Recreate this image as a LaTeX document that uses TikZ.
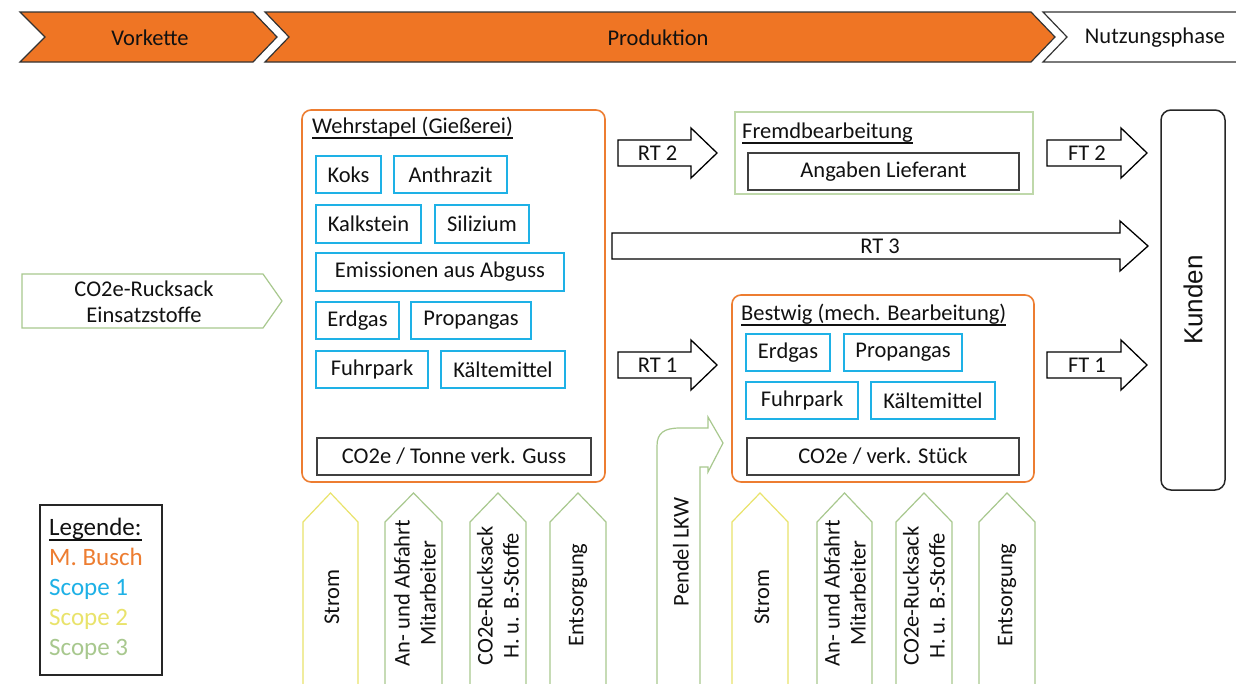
\documentclass[tikz,border=0pt]{standalone}
\usepackage{fontspec}
\setmainfont{Carlito}
\newfontfamily\kfont{Liberation Sans}
\usetikzlibrary{calc}
\definecolor{orng}{HTML}{EF7524}
\definecolor{boxor}{HTML}{ED7D31}
\definecolor{sblue}{HTML}{1EB1E6}
\definecolor{syel}{HTML}{E9E36B}
\definecolor{sgreen}{HTML}{A8C88E}
\definecolor{lgreen}{HTML}{BFD8AA}
\definecolor{txt}{HTML}{111111}
\newcommand{\bx}[7]{\node[#7, minimum width={#4pt-#2pt}, minimum height={#5pt-#3pt}] (#1) at ({(#2+#4)/2},{(#3+#5)/2}) {#6};}
\newcommand{\rarr}[8]{%
  \draw[barrow] (#2,{#4-#5}) -- ({#3-#7},{#4-#5}) -- ({#3-#7},{#4-#6}) -- (#3,#4) -- ({#3-#7},{#4+#6}) -- ({#3-#7},{#4+#5}) -- (#2,{#4+#5}) -- cycle;
  \node (#1) at ({(#2+#3-#7)/2+3},#4) {#8};}
\newcommand{\uarr}[3]{%
  \draw[draw=#3, line width=1.2pt, line join=miter] (#1,684) -- (#1,522) -- ({(#1+#2)/2},493) -- (#2,522) -- (#2,684);}
\begin{document}
\begin{tikzpicture}[x=1pt,y=-1pt,
  every node/.style={font=\fontsize{22.5}{26}\selectfont, text=txt, inner sep=0pt},
  bbox/.style={draw=sblue, line width=1.5pt},
  gbox/.style={draw=black!75, line width=1.2pt},
  obox/.style={draw=boxor, line width=1.6pt, rounded corners=9pt},
  grnbox/.style={draw=lgreen, line width=1.4pt},
  barrow/.style={draw=black, line width=1.3pt, fill=white, line join=miter},
  chev/.style={draw=black!80, line width=1.2pt, line join=miter},
  rot/.style={rotate=90, align=center},
  ul/.style={line width=1.1pt, draw=txt}]
\useasboundingbox[fill=white] (0,0) rectangle (1236,683);

% banner
\fill[orng] (20,12) -- (253,12) -- (277,37) -- (253,62) -- (20,62) -- (45,37) -- cycle;
\draw[chev] (20,12) -- (253,12) -- (277,37) -- (253,62) -- (20,62) -- (45,37) -- cycle;
\fill[orng] (265,12) -- (1031,12) -- (1055,37) -- (1031,62) -- (265,62) -- (289,37) -- cycle;
\draw[chev] (265,12) -- (1031,12) -- (1055,37) -- (1031,62) -- (265,62) -- (289,37) -- cycle;
\draw[chev] (1240,12) -- (1043,12) -- (1067,37) -- (1043,62) -- (1240,62);
\node (vork) at (150,38) {Vorkette};
\node (prod) at (658,38) {Produktion};
\node (nutz) at (1155,38) {Nutzungsphase};

% Wehrstapel
\bx{wehr}{302}{110}{605}{482}{}{obox}
\node[anchor=base west] (wt) at (312,133) {Wehrstapel (Gießerei)};
\draw[ul] ($(wt.base west)+(0,5)$) -- ($(wt.base east)+(0,5)$);
\bx{koks}{316}{156}{381}{193}{Koks}{bbox}
\bx{anth}{394}{156}{507}{193}{Anthrazit}{bbox}
\bx{kalk}{316}{205}{421}{243}{Kalkstein}{bbox}
\bx{sili}{435}{205}{529}{243}{Silizium}{bbox}
\bx{emis}{316}{253}{564}{291}{Emissionen aus Abguss}{bbox}
\bx{erd}{316}{302}{399}{339}{Erdgas}{bbox}
\bx{prop}{411}{302}{531}{339}{Propangas}{bbox}
\bx{fuhr}{316}{351}{428}{388}{Fuhrpark}{bbox}
\bx{kalt}{441}{351}{565}{388}{Kältemittel}{bbox}
\bx{tonne}{317}{438}{591}{475}{CO2e / Tonne verk. Guss}{gbox}

% Fremdbearbeitung
\bx{fremd}{735}{112}{1033}{194}{}{grnbox}
\node[anchor=base west] (ft) at (742,138) {Fremdbearbeitung};
\draw[ul] ($(ft.base west)+(0,5)$) -- ($(ft.base east)+(0,5)$);
\bx{ang}{748}{153}{1019}{190}{Angaben Lieferant}{gbox}

% Bestwig
\bx{best}{732}{295}{1034}{482}{}{obox}
\node[anchor=base west] (bt) at (741,320) {Bestwig (mech. Bearbeitung)};
\draw[ul] ($(bt.base west)+(0,5)$) -- ($(bt.base east)+(0,5)$);
\bx{erd2}{746}{334}{830}{371}{Erdgas}{bbox}
\bx{prop2}{844}{334}{962}{371}{Propangas}{bbox}
\bx{fuhr2}{746}{382}{858}{419}{Fuhrpark}{bbox}
\bx{kalt2}{871}{382}{995}{419}{Kältemittel}{bbox}
\bx{stueck}{747}{438}{1019}{475}{CO2e / verk. Stück}{gbox}

% Kunden
\node[draw=black!85, line width=1.5pt, rounded corners=10pt, minimum width=64pt, minimum height=380pt] (kund) at (1193,300) {};
\node[rotate=90, font=\kfont\fontsize{26}{30}\selectfont] (kundt) at (1193,300) {Kunden};

% block arrows
\rarr{rt2}{618}{717}{153}{13}{25}{26}{RT 2}
\rarr{ft2}{1047}{1147}{153}{13}{25}{26}{FT 2}
\draw[barrow] (612,233) -- (1120,233) -- (1120,221) -- (1148,246) -- (1120,271) -- (1120,259) -- (612,259) -- cycle;
\node (rt3) at (880,246) {RT 3};
\rarr{rt1}{618}{717}{365}{13}{25}{26}{RT 1}
\rarr{ft1}{1047}{1147}{365}{13}{25}{26}{FT 1}

% Einsatzstoffe
\draw[draw=sgreen, line width=1.2pt, line join=miter] (22,274) -- (263,274) -- (282,301) -- (263,328) -- (22,328) -- cycle;
\node[align=center] (eins) at (144,302) {CO2e-Rucksack\\Einsatzstoffe};

% bottom arrows
\uarr{303}{358}{syel}
\node[rot] (strom1) at (332,597) {Strom};
\uarr{385}{442}{sgreen}
\node[rot] (anf1) at (415,593) {An- und Abfahrt\\Mitarbeiter};
\uarr{470}{526}{sgreen}
\node[rot] (ruck1) at (498,596) {CO2e-Rucksack\\H. u. B.-Stoffe};
\uarr{550}{606}{sgreen}
\node[rot] (ents1) at (578,595) {Entsorgung};
\uarr{732}{788}{syel}
\node[rot] (strom2) at (762,597) {Strom};
\uarr{817}{872}{sgreen}
\node[rot] (anf2) at (845,593) {An- und Abfahrt\\Mitarbeiter};
\uarr{896}{952}{sgreen}
\node[rot] (ruck2) at (924,596) {CO2e-Rucksack\\H. u. B.-Stoffe};
\uarr{979}{1035}{sgreen}
\node[rot] (ents2) at (1007,595) {Entsorgung};

% Pendel LKW
\draw[draw=sgreen, line width=1.2pt, line join=miter] (657,684) -- (657,446) .. controls (657,433) and (664,428) .. (680,428) -- (708,428) -- (708,417) -- (723,443) -- (708,472) -- (708,467) -- (700,467) -- (700,684);
\node[rot] (pendel) at (681,552) {Pendel LKW};

% legend
\node[draw=black!85, line width=1.5pt, minimum width=122pt, minimum height=170pt] (leg) at (101,590) {};
\begin{scope}[every node/.style={font=\fontsize{25}{30}\selectfont, inner sep=0pt, anchor=base west}]
\node[text=txt] (l0) at (49,535) {Legende:};
\node[text=boxor] (l1) at (49,565) {M. Busch};
\node[text=sblue] (l2) at (49,595) {Scope 1};
\node[text=syel] (l3) at (49,625) {Scope 2};
\node[text=sgreen] (l4) at (49,655) {Scope 3};
\end{scope}
\draw[ul] ($(l0.base west)+(0,5)$) -- ($(l0.base east)+(0,5)$);
\end{tikzpicture}
\end{document}
